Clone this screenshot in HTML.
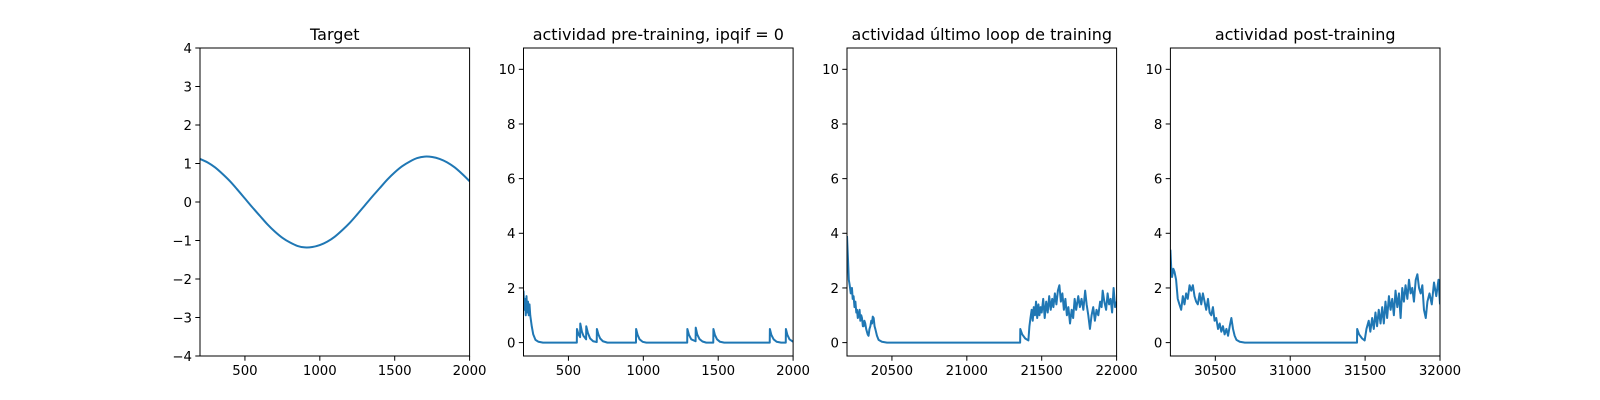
<!DOCTYPE html>
<html><head><meta charset="utf-8"><style>
html,body{margin:0;padding:0;background:#fff;}
svg{display:block;font-family:"DejaVu Sans","Liberation Sans",sans-serif;}
</style></head><body>
<svg id="fig" width="1600" height="400" viewBox="0 0 1600 400"></svg>
<script>
// ---- data ----
const p1Times=[200,250,300,350,400,450,500,550,600,650,700,750,800,850,900,950,1000,1050,1100,1150,1200,1250,1300,1350,1400,1450,1500,1550,1600,1650,1700,1750,1800,1850,1900,1950,2000];
const p1Vals=[1.12,1.03,0.90,0.73,0.54,0.32,0.09,-0.14,-0.36,-0.58,-0.77,-0.93,-1.05,-1.14,-1.18,-1.17,-1.12,-1.03,-0.90,-0.73,-0.54,-0.32,-0.09,0.14,0.36,0.58,0.77,0.93,1.05,1.14,1.18,1.17,1.12,1.03,0.90,0.73,0.54];

const p2Times=[200,205,210,215,220,225,230,235,240,245,255,265,280,300,330,
556,557,567,578,579,590,600,618,619,630,645,665,689,690,700,712,730,760,
951,952,962,975,995,1020,1293,1294,1305,1320,1349,1350,1360,1375,1395,1420,
1467,1468,1478,1492,1512,1540,1844,1845,1855,1870,1890,1920,1951,1952,1962,1976,2000];
const p2Vals=[1.9,1.2,1.6,1.0,1.7,1.1,1.5,1.0,1.4,1.0,0.6,0.3,0.1,0.03,0,
0,0.5,0.3,0.2,0.7,0.4,0.25,0.12,0.6,0.35,0.15,0.05,0.02,0.5,0.3,0.15,0.05,0,
0,0.5,0.28,0.12,0.03,0,0,0.5,0.28,0.12,0.05,0.55,0.3,0.13,0.04,0,
0,0.5,0.28,0.12,0.03,0,0,0.5,0.28,0.12,0.03,0,0,0.5,0.28,0.12,0.03];

const p3Times=[20200,20207,20212,20218,20225,20233,20238,20244,20250,20256,20262,20267,20272,20278,20284,20289,20295,20300,20306,20311,20316,20322,20328,20333,20338,20344,20350,20356,20362,20367,20372,20378,20384,20389,20400,20411,20433,20467,
21356,21357,21370,21390,21411,21418,21425,21433,21440,21447,21455,21462,21470,21478,21485,21493,21500,21510,21520,21530,21540,21550,21560,21570,21578,21588,21598,21608,21618,21628,21638,21648,21658,21668,21678,21689,21700,21710,21720,21730,21744,21755,21766,21778,21790,21800,21811,21822,21833,21844,21855,21866,21878,21890,21900,21907,21918,21930,21940,21950,21960,21970,21980,21990,22000];
const p3Vals=[3.9,3.0,2.3,2.1,1.8,2.0,1.6,1.7,1.3,1.5,1.1,1.2,0.9,1.0,1.2,0.8,1.0,0.9,0.6,0.6,0.8,0.7,0.5,0.4,0.3,0.25,0.5,0.6,0.8,0.7,0.95,0.9,0.6,0.5,0.25,0.1,0.03,0,
0,0.5,0.3,0.15,0.08,0.6,0.9,1.2,0.8,1.3,1.0,1.5,0.9,1.4,1.0,1.3,1.1,1.6,0.9,1.5,1.1,1.7,1.2,1.6,1.3,1.8,1.4,1.9,2.1,1.5,1.8,1.2,1.6,1.0,1.3,0.7,1.2,0.9,1.6,1.2,1.7,1.3,1.6,1.2,1.9,1.4,1.0,0.5,1.0,1.3,0.8,1.2,1.0,1.5,1.3,1.9,1.5,1.2,1.8,1.4,1.6,1.1,2.0,1.3,1.5];

const p4Times=[30200,30205,30211,30220,30227,30238,30249,30260,30272,30283,30294,30305,30316,30328,30339,30350,30361,30372,30383,30395,30406,30417,30428,30439,30451,30462,30473,30484,30495,30506,30518,30529,30540,30551,30562,30574,30585,30596,30607,30618,30629,30641,30663,30697,
31446,31447,31460,31480,31497,31509,31524,31535,31547,31558,31569,31580,31591,31603,31614,31625,31636,31647,31659,31670,31681,31692,31703,31715,31726,31737,31748,31759,31770,31782,31793,31804,31815,31826,31838,31849,31860,31871,31882,31893,31905,31916,31930,31945,31960,31975,31990,32000];
const p4Vals=[3.4,2.8,2.4,2.7,2.6,2.3,1.6,1.4,1.2,1.7,1.4,1.8,1.6,2.1,1.9,2.1,1.7,1.5,1.4,1.8,1.4,1.8,1.5,1.2,1.6,1.1,1.0,1.3,0.8,0.9,0.5,0.7,0.4,0.6,0.3,0.5,0.25,0.6,0.9,0.5,0.25,0.1,0.03,0,
0,0.5,0.3,0.15,0.08,0.5,0.8,0.4,0.9,0.5,1.1,0.6,1.2,0.7,1.3,0.7,1.5,0.9,1.7,1.2,1.6,1.0,1.9,1.3,1.8,0.9,2.0,1.5,2.1,1.6,2.3,1.8,2.0,1.5,2.3,2.5,2.0,1.8,2.1,1.2,0.9,1.5,1.8,1.4,2.2,1.7,2.3,1.4];

const xt1=[500,1000,1500,2000];
const xt3=[20500,21000,21500,22000];
const xt4=[30500,31000,31500,32000];
const yt1=[-4,-3,-2,-1,0,1,2,3,4];
const yt2=[0,2,4,6,8,10];

const NS='http://www.w3.org/2000/svg';
const svg=document.getElementById('fig');
function mk(tag,attrs,parent){const e=document.createElementNS(NS,tag);for(const k in attrs)e.setAttribute(k,attrs[k]);(parent||svg).appendChild(e);return e;}
const TOP=48,BOT=356,W=269.6;
function fmt(v){return v<0?'\u2212'+Math.abs(v):String(v);}
function panel(idx,x0,xmin,xmax,ymin,ymax,xt,yt,title,times,vals,smooth){
  const g=mk('g',{});
  
  
  const sx=v=>x0+(v-xmin)/(xmax-xmin)*W;
  const sy=v=>BOT-(v-ymin)/(ymax-ymin)*(BOT-TOP);
  const cid='clip'+idx;
  const cp=mk('clipPath',{id:cid},g);mk('rect',{x:x0,y:TOP,width:W,height:BOT-TOP},cp);
  const P=times.map((t,i)=>[sx(t),sy(vals[i])]);
  let d='M'+P[0][0].toFixed(2)+','+P[0][1].toFixed(2);
  for(let i=1;i<P.length;i++){
    if(smooth){
      const p0=P[Math.max(0,i-2)],p1=P[i-1],p2=P[i],p3=P[Math.min(P.length-1,i+1)];
      const c1=[p1[0]+(p2[0]-p0[0])/6,p1[1]+(p2[1]-p0[1])/6];
      const c2=[p2[0]-(p3[0]-p1[0])/6,p2[1]-(p3[1]-p1[1])/6];
      d+='C'+c1[0].toFixed(2)+','+c1[1].toFixed(2)+' '+c2[0].toFixed(2)+','+c2[1].toFixed(2)+' '+p2[0].toFixed(2)+','+p2[1].toFixed(2);
    } else d+='L'+P[i][0].toFixed(2)+','+P[i][1].toFixed(2);
  }
  const line=mk('path',{d:d,fill:'none',stroke:'#1f77b4','stroke-width':2,'stroke-linejoin':'round','clip-path':'url(#'+cid+')'},g);
  
  
  const fr=mk('rect',{x:x0,y:TOP,width:W,height:BOT-TOP,fill:'none',stroke:'#000','stroke-width':1},g);
  
  
  xt.forEach(v=>{const X=sx(v);mk('line',{x1:X,x2:X,y1:BOT,y2:BOT+4.7,stroke:'#000','stroke-width':1},g);
    const t=mk('text',{x:X,y:BOT+19,'text-anchor':'middle','font-size':13.3,fill:'#000'},g);t.textContent=v;
    
    });
  yt.forEach(v=>{const Y=sy(v);mk('line',{x1:x0-4.7,x2:x0,y1:Y,y2:Y,stroke:'#000','stroke-width':1},g);
    const t=mk('text',{x:x0-8,y:Y+4.8,'text-anchor':'end','font-size':13.3,fill:'#000'},g);t.textContent=fmt(v);
    
    });
  const tt=mk('text',{x:x0+W/2,y:TOP-8,'text-anchor':'middle','font-size':16,fill:'#000'},g);tt.textContent=title;
  
  
}
panel(1,200,200,2000,-4,4,xt1,yt1,'Target',p1Times,p1Vals,true);
panel(2,523.5,200,2000,-0.49,10.78,xt1,yt2,'actividad pre-training, ipqif = 0',p2Times,p2Vals,false);
panel(3,847,20200,22000,-0.49,10.78,xt3,yt2,'actividad último loop de training',p3Times,p3Vals,false);
panel(4,1170.4,30200,32000,-0.49,10.78,xt4,yt2,'actividad post-training',p4Times,p4Vals,false);
</script>
</body></html>
